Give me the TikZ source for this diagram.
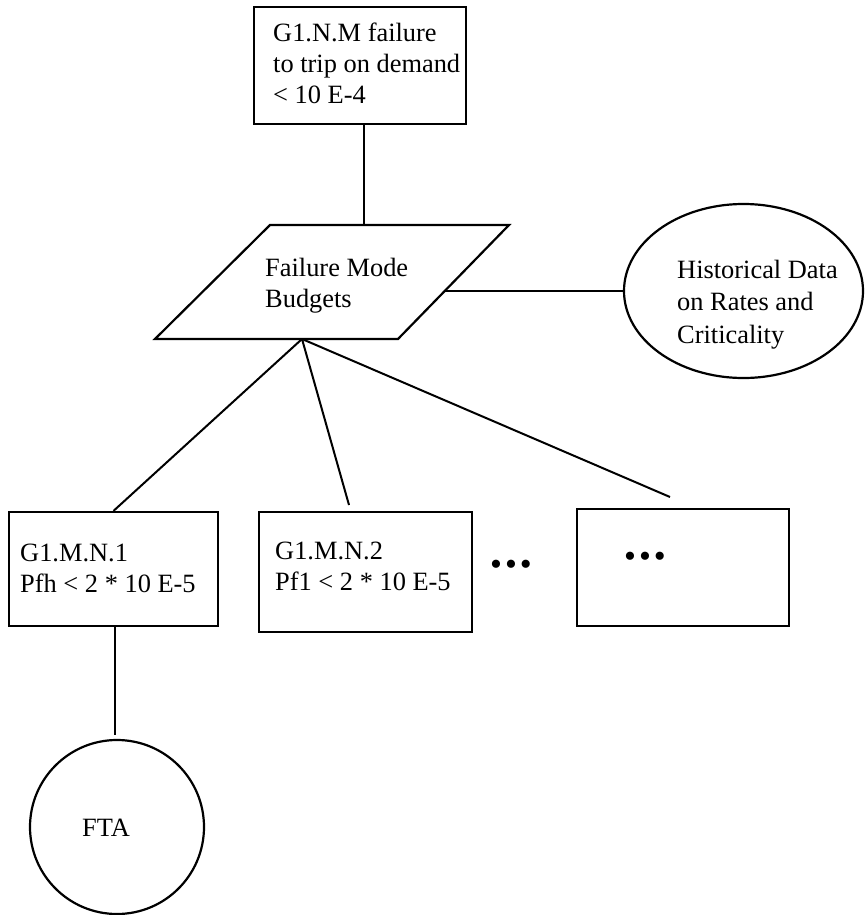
\documentclass[tikz,border=0pt]{standalone}
\usepackage{fontspec}
\setmainfont{Liberation Serif}
\usetikzlibrary{shapes.geometric}
\begin{document}
\begin{tikzpicture}[x=1pt,y=-1pt,
  shapebox/.style={draw, line width=2.2pt, inner sep=0pt},
  txt/.style={font=\fontsize{26.4}{31}\selectfont, align=left, anchor=base west, inner sep=0pt},
  dots/.style={font=\fontsize{34}{34}\selectfont, inner sep=0pt, anchor=center},
  link/.style={line width=2pt}]
\useasboundingbox (0,0) rectangle (866,915);
% shapes
\node[shapebox, rectangle, minimum width=212pt, minimum height=117pt] (top) at (360,65.5) {};
\coordinate (pa) at (270,225);
\coordinate (pb) at (509,225);
\coordinate (pc) at (398,339);
\coordinate (pd) at (155,339);
\draw[line width=2.2pt, line join=miter] (pa) -- (pb) -- (pc) -- (pd) -- cycle;
\node[shapebox, ellipse, minimum width=239pt, minimum height=174pt] (hist) at (743.5,291) {};
\node[shapebox, rectangle, minimum width=209pt, minimum height=114pt] (b1) at (113.5,569) {};
\node[shapebox, rectangle, minimum width=213pt, minimum height=120pt] (b2) at (365.5,572) {};
\node[shapebox, rectangle, minimum width=212pt, minimum height=117pt] (b3) at (683,567.5) {};
\node[shapebox, circle, minimum size=174pt] (fta) at (117,827) {};
% texts (anchored at the baseline of the last line)
\node[txt] (ttop) at (273,104) {G1.N.M failure\\to trip on demand\\< 10 E-4};
\node[txt] (tfm) at (265,307) {Failure Mode\\Budgets};
\node[txt, font=\fontsize{26.4}{32.5}\selectfont] (thist) at (677,343) {Historical Data\\on Rates and\\Criticality};
\node[txt] (tb1) at (20,592) {G1.M.N.1\\Pfh < 2 * 10 E-5};
\node[txt] (tb2) at (275,590) {G1.M.N.2\\Pf1 < 2 * 10 E-5};
\node[txt] (tfta) at (82,836) {FTA};
\node[dots] (d1) at (511,568) {•\kern3pt•\kern3pt•};
\node[dots] (d2) at (645,560) {•\kern3pt•\kern3pt•};
% connectors
\coordinate (ptop) at (364,225);
\draw[link] (ptop |- top.south) -- (ptop);
\coordinate (pright) at (445,291);
\draw[link] (pright) -- (hist.west);
\coordinate (pbr) at (302,339);
\coordinate (e2) at (349,505);
\coordinate (e3) at (670,497);
\draw[link] (pbr) -- (b1.north);
\draw[link] (pbr) -- (e2);
\draw[link] (pbr) -- (e3);
\coordinate (e4) at (115,735);
\draw[link] (e4 |- b1.south) -- (e4);
\end{tikzpicture}
\end{document}
